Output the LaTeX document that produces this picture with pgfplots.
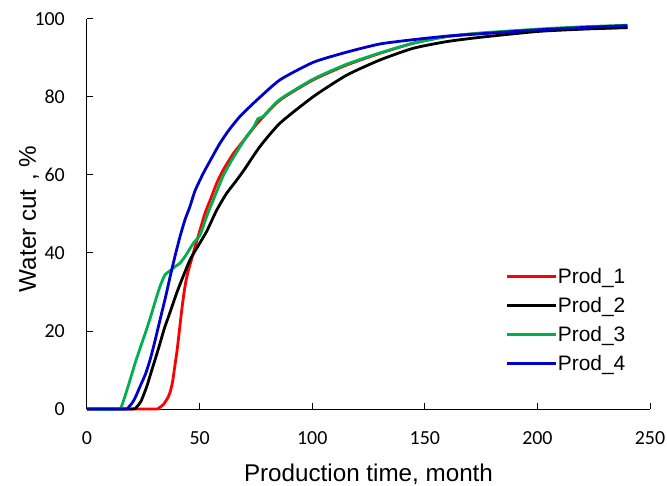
\documentclass[border=0pt]{standalone}
\usepackage{fontspec}
\setmainfont{Liberation Sans}
\newfontfamily\calibri{Carlito}
\usepackage{pgfplots}
\pgfplotsset{compat=1.18}
\definecolor{cRed}{RGB}{255,0,0}
\definecolor{cGreen}{RGB}{0,176,80}
\definecolor{cBlue}{RGB}{0,0,204}
\begin{document}
\begin{tikzpicture}
\begin{axis}[
  scale only axis,
  width=563bp, height=390bp,
  xmin=0, xmax=250, ymin=0, ymax=100,
  xtick={0,50,...,250}, ytick={0,20,...,100},
  axis x line=bottom, axis y line=left,
  axis line style={-, line width=1bp, black},
  tick style={black, line width=1bp},
  tick align=inside, major tick length=6bp,
  clip=false,
  /pgf/number format/assume math mode=true,
  ticklabel style={font=\calibri\fontsize{20}{24}\selectfont, inner sep=0pt},
  xticklabel style={anchor=base, yshift=-35.5bp},
  yticklabel style={anchor=east, xshift=-22bp},
  xlabel={Production time, month},
  ylabel={Water cut\hspace{0.35em}, \%},
  every axis x label/.style={at={(rel axis cs:0.5,0)}, anchor=base, yshift=-72bp, font=\fontsize{24.3}{28}\selectfont},
  every axis y label/.style={at={(rel axis cs:0,0.487)}, xshift=-51bp, rotate=90, anchor=base, font=\fontsize{24.3}{28}\selectfont},
  legend cell align=left,
  legend style={draw=none, fill=none, font=\fontsize{21}{25}\selectfont,
    at={(rel axis cs:0.744,0.362)}, anchor=north west, inner sep=0pt,
    row sep=12.5bp,
    nodes={inner sep=0pt, outer sep=0pt},
    /tikz/every even column/.append style={column sep=8bp}},
  legend image code/.code={\draw[#1] (0bp,0bp) -- (49bp,0bp);},
  every axis plot/.append style={line width=2.8bp, line join=round, smooth, tension=0.35},
]
\coordinate (bl) at (rel axis cs:0,0);
\coordinate (tr) at (rel axis cs:1,1);
\addplot[cRed, no marks] coordinates {
(0,0)(30,0)(32,0.3)(34,1.2)(36,3)(37,4.5)(38,7)(39,11)(40,15)(41,20)(42,25)(43,29.5)(44,33)(45,35.5)(46,37.5)(48,41.6)(50,45.5)(52.4,50.2)(55,54)(57.6,57.9)(60.5,61.3)(65,65.5)(70.9,69.8)(76,73.5)(85.7,79.2)(100.5,84.4)(115.3,88.2)(130.1,91.2)(144.9,93.8)(159.7,95.5)(174.5,96.3)(200,97)(220,97.5)(240,97.8)
};
\addlegendentry{Prod\_1}
\addplot[black, no marks] coordinates {
(0,0)(20,0)(22,0.5)(24,2)(26.5,5.7)(28,8.5)(30.2,12.6)(32,16)(33.5,19)(34.6,21.1)(37,25)(39.8,29.7)(42,33)(45.7,38.2)(49,41.5)(53.1,45.5)(57.6,51)(62,55.3)(66.5,58.7)(70,61.5)(76.8,67.3)(85.7,73.3)(100.5,80.1)(115.3,85.6)(130.1,89.5)(144.9,92.5)(159.7,94.2)(174.5,95.3)(200,96.8)(220,97.4)(240,97.8)
};
\addlegendentry{Prod\_2}
\addplot[cGreen, no marks] coordinates {
(0,0)(14,0)(15.5,1)(17,3.5)(19.1,7.4)(21.5,12)(24.3,16.8)(26.5,20.5)(28.7,24.5)(30.5,28)(32.4,31.4)(34.6,34.4)(37,35.5)(39,36.5)(41.3,37.4)(44,39.5)(47.2,42.5)(50.2,44.6)(53.1,49.3)(56,53.5)(60.5,59.8)(65,64.5)(70.9,69.9)(74,72.3)(76,74.5)(78,74.9)(85.7,79.4)(100.5,84.6)(115.3,88.4)(130.1,91.3)(144.9,93.8)(159.7,95.5)(174.5,96.4)(200,97.4)(220,98)(240,98.4)
};
\addlegendentry{Prod\_3}
\addplot[cBlue, no marks] coordinates {
(0,0)(17,0)(18.5,0.5)(20,1.5)(21.5,3)(23.5,5.7)(26,9)(28,12.6)(30,17)(32.4,22.8)(35,29)(36.9,33.9)(39,39)(41.3,44.2)(43.5,48.5)(45.7,51.9)(48,56)(51.6,60.4)(55,64)(59,68.1)(63,71.5)(67.9,75)(75.4,79.2)(85.7,84.4)(100.5,88.9)(115.3,91.5)(130.1,93.6)(144.9,94.7)(159.7,95.6)(174.5,96.2)(200,97.2)(220,97.8)(240,98.3)
};
\addlegendentry{Prod\_4}
\end{axis}
\pgfresetboundingbox
\path[use as bounding box] ([xshift=-87bp,yshift=-77bp]bl) rectangle ([xshift=17bp,yshift=19bp]tr);
\end{tikzpicture}
\end{document}
